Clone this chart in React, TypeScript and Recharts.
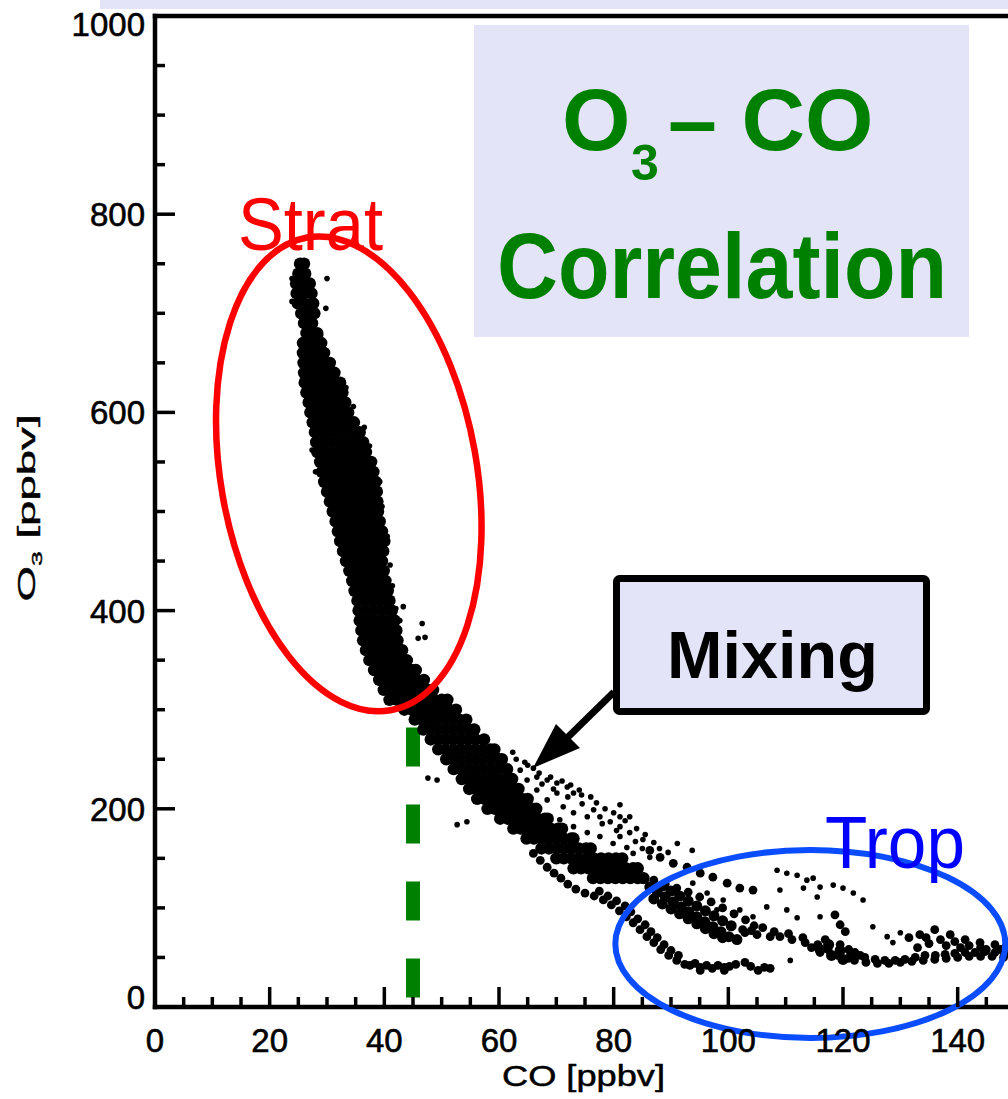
import { ScatterChart, Scatter, XAxis, YAxis, ReferenceLine, ReferenceDot } from "recharts";

const xTicks = [0, 5, 10, 15, 20, 25, 30, 35, 40, 45, 50, 55, 60, 65, 70, 75, 80, 85, 90, 95, 100, 105, 110, 115, 120, 125, 130, 135, 140, 145, 150];
const xLabels = [0, 20, 40, 60, 80, 100, 120, 140];
const yTicks = [0, 50, 100, 150, 200, 250, 300, 350, 400, 450, 500, 550, 600, 650, 700, 750, 800, 850, 900, 950, 1000];
const yLabels = [0, 200, 400, 600, 800, 1000];

// stratospheric branch: [O3, CO values along that O3 level]
const stratRows: [number, number[]][] = [
  [750, [25.3, 26.0]],
  [740, [25.0, 26.2]],
  [730, [24.6, 25.8, 27.0]],
  [720, [24.7, 25.9, 27.3]],
  [710, [24.9, 26.1, 27.6]],
  [700, [25.5, 26.7, 27.8]],
  [690, [26.0, 27.4]],
  [680, [26.4, 27.6, 28.3]],
  [670, [25.8, 27.0, 28.2, 29.0]],
  [660, [25.8, 27.0, 28.3, 29.5]],
  [650, [25.9, 27.1, 28.4, 29.6, 30.5]],
  [640, [26.0, 27.3, 28.6, 29.9, 31.3]],
  [630, [26.1, 27.4, 28.7, 30.0, 31.2, 32.3]],
  [620, [26.4, 27.7, 29.0, 30.3, 31.5, 32.7]],
  [610, [26.8, 28.0, 29.3, 30.6, 31.9, 33.2]],
  [600, [27.1, 28.4, 29.7, 31.0, 32.3, 33.7]],
  [590, [27.5, 28.8, 30.1, 31.4, 32.7, 34.0, 34.7]],
  [580, [27.9, 29.2, 30.5, 31.8, 33.1, 34.4, 35.7]],
  [570, [28.1, 29.4, 30.7, 32.0, 33.3, 34.6, 35.9, 36.3]],
  [560, [28.3, 29.6, 30.9, 32.2, 33.5, 34.8, 36.1, 36.8]],
  [550, [28.8, 30.1, 31.4, 32.7, 34.0, 35.3, 36.6, 37.7]],
  [540, [29.1, 30.4, 31.7, 33.0, 34.3, 35.6, 36.9, 38.1]],
  [530, [29.5, 30.8, 32.1, 33.4, 34.7, 36.0, 37.3, 38.5]],
  [520, [30.0, 31.3, 32.6, 33.9, 35.2, 36.5, 37.8, 38.7]],
  [510, [30.5, 31.8, 33.1, 34.4, 35.7, 37.0, 38.3, 38.8]],
  [500, [31.0, 32.3, 33.6, 34.9, 36.2, 37.5, 38.9]],
  [490, [31.5, 32.8, 34.1, 35.4, 36.7, 38.0, 39.2]],
  [480, [31.9, 33.2, 34.5, 35.8, 37.1, 38.4, 39.6]],
  [470, [32.3, 33.6, 34.9, 36.2, 37.5, 38.8, 40.0]],
  [460, [32.8, 34.1, 35.4, 36.7, 38.0, 39.3, 39.8]],
  [450, [33.3, 34.6, 35.9, 37.2, 38.5, 39.6]],
  [440, [33.9, 35.2, 36.5, 37.8, 39.1, 39.9]],
  [430, [34.4, 35.7, 37.0, 38.3, 39.6, 40.2]],
  [420, [34.8, 36.1, 37.4, 38.7, 40.0, 40.6]],
  [410, [35.3, 36.6, 37.9, 39.2, 40.5, 40.9]],
  [400, [35.5, 36.8, 38.1, 39.4, 40.7, 41.3]],
  [390, [35.7, 37.0, 38.3, 39.6, 40.9, 41.8]],
  [380, [36.0, 37.3, 38.6, 39.9, 41.2, 42.1]],
  [370, [36.3, 37.6, 38.9, 40.2, 41.5, 42.3]],
  [360, [36.8, 38.1, 39.4, 40.7, 42.0, 43.1]],
  [350, [37.4, 38.7, 40.0, 41.3, 42.6, 43.9]],
  [340, [38.2, 39.5, 40.8, 42.1, 43.4, 44.7, 45.5]],
  [330, [39.1, 40.4, 41.7, 43.0, 44.3, 45.6, 46.9]],
  [320, [39.9, 41.2, 42.5, 43.8, 45.1, 46.4, 47.7, 48.5]],
  [310, [40.9, 42.2, 43.5, 44.8, 46.1, 47.4, 48.7, 50.0, 51.0]],
];

// mixing band between the two branches
const mixingRows: [number, number[]][] = [
  [300, [43.5, 44.8, 46.1, 47.4, 48.7, 50.0, 51.3, 52.5]],
  [290, [45.3, 46.6, 47.9, 49.2, 50.5, 51.8, 53.1, 54.3]],
  [280, [46.8, 48.1, 49.4, 50.7, 52.0, 53.3, 54.6, 55.7]],
  [270, [48.1, 49.4, 50.7, 52.0, 53.3, 54.6, 55.9, 57.4]],
  [260, [49.4, 50.7, 52.0, 53.3, 54.6, 55.9, 57.2, 58.5, 59.2]],
  [250, [50.8, 52.1, 53.4, 54.7, 56.0, 57.3, 58.6, 59.9, 60.5]],
  [240, [52.1, 53.4, 54.7, 56.0, 57.3, 58.6, 59.9, 61.4]],
  [230, [53.5, 54.8, 56.1, 57.4, 58.7, 60.0, 61.3, 62.3]],
  [220, [54.8, 56.1, 57.4, 58.7, 60.0, 61.3, 62.6, 63.4]],
  [210, [56.2, 57.5, 58.8, 60.1, 61.4, 62.7, 64.0, 65.0]],
  [200, [58.0, 59.3, 60.6, 61.9, 63.2, 64.5, 65.8, 66.5]],
  [190, [60.2, 61.5, 62.8, 64.1, 65.4, 66.7, 68.0, 68.5]],
  [180, [62.5, 63.8, 65.1, 66.4, 67.7, 69.0, 70.3, 71.0]],
  [170, [64.8, 66.1, 67.4, 68.7, 70.0, 71.3, 72.6, 73.0]],
  [160, [67.4, 68.7, 70.0, 71.3, 72.6, 73.9, 75.2, 76.0]],
  [150, [70.0, 71.3, 72.6, 73.9, 75.2, 76.5, 77.8, 79.1, 80.4, 81.5]],
  [140, [73.0, 74.3, 75.6, 76.9, 78.2, 79.5, 80.8, 82.1, 83.4, 84.2]],
  [130, [76.4, 77.7, 79.0, 80.3, 81.6, 82.9, 84.2, 85.2]],
];

// [CO, O3] pairs for the thicker tropospheric band
const tropCore: [number, number][] = [
  [86.3, 121], [87.6, 116], [89.0, 111], [90.4, 106], [91.8, 101], [93.1, 96], [94.5, 91], [95.9, 86],
  [97.3, 81], [98.7, 76], [100.1, 71], [101.5, 68],
  [88.5, 122], [90.0, 117], [91.5, 112], [93.0, 107], [94.5, 102], [96.0, 97], [97.5, 92], [99.0, 87], [100.5, 82],
  [87.0, 109], [88.5, 104], [90.0, 99], [91.5, 94], [93.0, 89], [94.5, 84], [96.0, 79], [97.5, 74], [99.0, 70],
  [116.0, 58], [118.0, 52], [120.0, 48], [117.5, 63], [119.5, 57], [121.5, 52],
];

// thinner tropospheric strands
const tropStrands: [number, number][] = [
  [66.0, 155], [67.2, 148], [68.4, 141], [69.6, 135], [70.8, 130], [72.0, 124], [73.4, 119], [75.0, 115],
  [76.6, 112], [78.2, 108], [79.6, 103], [81.0, 97], [82.2, 91], [83.4, 85], [84.6, 78], [85.8, 71],
  [87.0, 65], [88.2, 58], [89.6, 52], [91.0, 47], [92.4, 43],
  [77.5, 117], [79.0, 112], [80.5, 107], [82.0, 102], [83.0, 96], [84.2, 89], [85.5, 83], [86.5, 76],
  [87.6, 70], [88.8, 63], [90.0, 57], [91.3, 52],
  [93.3, 42], [95.1, 40], [97.2, 39], [99.3, 40], [101.3, 43], [102.9, 45], [105.2, 37], [107.3, 39],
  [94.2, 44], [96.2, 42], [98.2, 42], [100.2, 41], [103.9, 41], [106.3, 40], [95.1, 37], [99.3, 37],
  [87.0, 128], [89.0, 124], [91.0, 120], [93.0, 116], [95.0, 111], [97.0, 106], [99.0, 100], [101.0, 94],
  [103.0, 88], [104.5, 82], [102.5, 78], [104.0, 77], [106.0, 80], [108.0, 76],
  [102.9, 75], [105.0, 73], [107.3, 71], [109.0, 71], [111.1, 68], [113.4, 65], [115.6, 63], [117.4, 58],
  [119.1, 52], [120.9, 49], [116.9, 68], [119.5, 63], [122.1, 55], [118.6, 93], [119.5, 83], [120.4, 76],
  [114.5, 60], [116.0, 55], [122.0, 47], [121.0, 58], [123.0, 52], [113.0, 70], [110.5, 74],
  [123.8, 50], [125.6, 48], [127.3, 47], [129.1, 47], [130.8, 48], [132.6, 50], [134.3, 52], [136.1, 52],
  [137.8, 53], [139.5, 54], [141.3, 55], [143.0, 55], [144.8, 56], [146.5, 55], [148.3, 54],
  [124.0, 45], [126.0, 44], [128.0, 44], [130.0, 45], [132.0, 46], [134.0, 47], [136.0, 48], [138.0, 49],
  [140.0, 50], [142.0, 51], [144.0, 51], [146.0, 51], [148.0, 50],
  [133.4, 73], [136.0, 78], [138.7, 73], [141.3, 68], [143.9, 65], [146.5, 63], [148.3, 60],
  [135.0, 64], [138.0, 62], [140.5, 60], [144.0, 60], [134.5, 70], [137.0, 68], [139.5, 66], [142.0, 62],
  [145.0, 58], [147.5, 58], [131.5, 70], [133.0, 60],
  [86.3, 158], [88.1, 151], [90.4, 145], [92.8, 141], [95.1, 135], [97.3, 131], [99.8, 125], [102.0, 120], [104.3, 118],
];

// isolated samples around the main cloud
const scatterPoints: [number, number][] = [
  [30.0, 735], [29.8, 705], [23.9, 712], [23.9, 735], [28.9, 678], [30.8, 640], [33.3, 625], [34.6, 606],
  [36.5, 585], [37.4, 566], [27.4, 562], [28.0, 540], [39.2, 530], [39.6, 505], [40.5, 475], [41.0, 446],
  [41.4, 425], [42.0, 402], [43.3, 404], [46.6, 387], [45.9, 372], [47.1, 373], [42.7, 390], [44.5, 350],
  [47.6, 231], [49.2, 229], [52.7, 184], [54.4, 187], [55.3, 283], [62.4, 257], [64.5, 247], [63.7, 239],
  [66.0, 241], [66.6, 232], [64.9, 229], [68.4, 229], [70.1, 226], [71.9, 222], [73.0, 216], [74.4, 214],
  [70.1, 216], [66.6, 219], [68.4, 209], [71.2, 202], [73.0, 196], [75.4, 192], [77.6, 192], [79.4, 187],
  [81.1, 204], [81.1, 192], [82.8, 192], [81.1, 182], [81.1, 172], [82.8, 176], [85.1, 169], [75.4, 176],
  [77.6, 172], [79.9, 165], [82.3, 161], [83.4, 155], [86.3, 151], [75.4, 161], [73.0, 182], [70.6, 189],
  [63.0, 250], [65.0, 244], [67.0, 236], [69.0, 232], [71.0, 228], [72.5, 224], [74.0, 219], [76.0, 212],
  [77.0, 206], [78.5, 200], [80.0, 196], [82.0, 188], [84.0, 180], [85.5, 174], [87.0, 166], [67.5, 225],
  [69.5, 220], [72.0, 212], [74.5, 205], [76.5, 199], [78.0, 185], [80.5, 178], [83.8, 167], [85.0, 160],
  [88.0, 160], [89.5, 156],
  [91.1, 165], [93.7, 158], [93.8, 125], [96.3, 115], [99.1, 108], [98.0, 98], [100.8, 95],
  [108.5, 138], [110.2, 135], [112.0, 133], [113.7, 128], [114.8, 130], [113.1, 120], [116.0, 121],
  [118.3, 123], [120.0, 120], [121.8, 115], [123.5, 108], [115.5, 111], [109.0, 118], [106.7, 101],
  [104.3, 91], [102.0, 98], [110.2, 98], [112.0, 90], [116.0, 91], [125.2, 81], [127.7, 71], [130.0, 75],
  [128.7, 65], [110.8, 47],
];

const rowsToPoints = (rows: [number, number[]][]) =>
  rows.flatMap(([o3, cos]) => cos.map((co) => ({ co, o3 })));
const pairsToPoints = (pairs: [number, number][]) => pairs.map(([co, o3]) => ({ co, o3 }));

const stratPoints = rowsToPoints(stratRows);
const mixingPoints = rowsToPoints(mixingRows);
const tropCorePoints = pairsToPoints(tropCore);
const strandPoints = pairsToPoints(tropStrands);
const loosePoints = pairsToPoints(scatterPoints);

const INK = "#000";
const LAVENDER = "#e4e4f9";
const GREEN = "#008000";
const FONT = "'Liberation Sans', Arial, Helvetica, sans-serif";

const dot = (r: number) => (p: any) => <circle cx={p.cx} cy={p.cy} r={r} fill={INK} />;

const tickLen = (major: boolean) => (major ? 20 : 10);
const labelStyle = { fontSize: 33, fill: INK, stroke: INK, strokeWidth: 0.6 };

function BottomTick({ x, y, payload }: any) {
  const major = xLabels.includes(payload.value);
  return (
    <g>
      <line x1={x} x2={x} y1={y} y2={y - tickLen(major)} stroke={INK} strokeWidth={3.5} />
      {major && (
        <text x={x} y={y + 45} textAnchor="middle" {...labelStyle}>
          {payload.value}
        </text>
      )}
    </g>
  );
}

function TopTick({ x, y, payload }: any) {
  const major = xLabels.includes(payload.value);
  return <line x1={x} x2={x} y1={y} y2={y + tickLen(major)} stroke={INK} strokeWidth={3.5} />;
}

function LeftTick({ x, y, payload }: any) {
  const major = yLabels.includes(payload.value);
  // end labels are nudged inside the frame
  const shift = payload.value === 0 ? -10 : payload.value === 1000 ? 8 : 0;
  return (
    <g>
      <line x1={x} x2={x + tickLen(major)} y1={y} y2={y} stroke={INK} strokeWidth={3.5} />
      {major && (
        <text x={x - 10} y={y + 12 + shift} textAnchor="end" {...labelStyle}>
          {payload.value}
        </text>
      )}
    </g>
  );
}

function RightTick({ x, y, payload }: any) {
  const major = yLabels.includes(payload.value);
  return <line x1={x} x2={x - tickLen(major)} y1={y} y2={y} stroke={INK} strokeWidth={3.5} />;
}

const frame = { stroke: INK, strokeWidth: 4.5, strokeLinecap: "square" as const };

export default function App() {
  return (
    <div
      style={{
        position: "absolute",
        left: 0,
        top: 0,
        width: 1008,
        height: 1099,
        overflow: "hidden",
        background: "#fff",
        fontFamily: FONT,
      }}
    >
      <ScatterChart
        width={1030}
        height={1099}
        margin={{ top: 15, right: 14, bottom: 91, left: 154 }}
        style={{ fontFamily: FONT }}
      >
        <XAxis
          xAxisId="bottom"
          dataKey="co"
          type="number"
          domain={[0, 150]}
          ticks={xTicks}
          interval={0}
          height={1}
          tickSize={0}
          tickMargin={0}
          tickLine={false}
          axisLine={frame}
          tick={<BottomTick />}
        />
        <XAxis
          xAxisId="top"
          orientation="top"
          type="number"
          domain={[0, 150]}
          ticks={xTicks}
          interval={0}
          height={1}
          tickSize={0}
          tickMargin={0}
          tickLine={false}
          axisLine={frame}
          tick={<TopTick />}
        />
        <YAxis
          yAxisId="left"
          dataKey="o3"
          type="number"
          domain={[0, 1000]}
          ticks={yTicks}
          interval={0}
          width={1}
          tickSize={0}
          tickMargin={0}
          tickLine={false}
          axisLine={frame}
          tick={<LeftTick />}
        />
        <YAxis
          yAxisId="right"
          orientation="right"
          type="number"
          domain={[0, 1000]}
          ticks={yTicks}
          interval={0}
          width={1}
          tickSize={0}
          tickMargin={0}
          tickLine={false}
          axisLine={frame}
          tick={<RightTick />}
        />

        <Scatter xAxisId="bottom" yAxisId="left" data={stratPoints} shape={dot(6.2)} isAnimationActive={false} />
        <Scatter xAxisId="bottom" yAxisId="left" data={mixingPoints} shape={dot(6.2)} isAnimationActive={false} />
        <Scatter xAxisId="bottom" yAxisId="left" data={tropCorePoints} shape={dot(5.5)} isAnimationActive={false} />
        <Scatter xAxisId="bottom" yAxisId="left" data={strandPoints} shape={dot(4.4)} isAnimationActive={false} />
        <Scatter xAxisId="bottom" yAxisId="left" data={loosePoints} shape={dot(2.8)} isAnimationActive={false} />

        <ReferenceLine
          xAxisId="bottom"
          yAxisId="left"
          segment={[{ x: 45, y: 282 }, { x: 45, y: 9 }]}
          stroke={GREEN}
          strokeWidth={14}
          strokeDasharray="39 38"
        />
        <ReferenceDot
          xAxisId="bottom"
          yAxisId="left"
          x={33.8}
          y={538}
          shape={(p: any) => (
            <ellipse
              cx={p.cx}
              cy={p.cy}
              rx={128}
              ry={240}
              transform={`rotate(-10 ${p.cx} ${p.cy})`}
              fill="none"
              stroke="#ff0000"
              strokeWidth={6.5}
            />
          )}
        />
        <ReferenceDot
          xAxisId="bottom"
          yAxisId="left"
          x={114.3}
          y={63.6}
          shape={(p: any) => (
            <ellipse cx={p.cx} cy={p.cy} rx={195} ry={94} fill="none" stroke="#0a4cff" strokeWidth={6} />
          )}
        />
      </ScatterChart>

      <svg
        width={1008}
        height={1099}
        style={{ position: "absolute", left: 0, top: 0, pointerEvents: "none", fontFamily: FONT }}
      >
        <rect x={100} y={0} width={908} height={9} fill={LAVENDER} />

        <rect x={474} y={25} width={495} height={312} fill={LAVENDER} />
        <text fontSize={88} fontWeight="bold" fill={GREEN}>
          <tspan x={562} y={150}>O</tspan>
          <tspan x={631} y={180} fontSize={50}>3</tspan>
          <tspan x={668} y={150}>– CO</tspan>
        </text>
        <text x={497} y={298} fontSize={92} fontWeight="bold" fill={GREEN} textLength={450} lengthAdjust="spacingAndGlyphs">
          Correlation
        </text>

        <text x={238} y={250} fontSize={74} fill="#ff0000" textLength={145} lengthAdjust="spacingAndGlyphs">
          Strat
        </text>
        <text x={825} y={868} fontSize={74} fill="#0000ff" textLength={140} lengthAdjust="spacingAndGlyphs">
          Trop
        </text>

        <rect x={616.5} y={578.5} width={310} height={133} rx={3} fill={LAVENDER} stroke={INK} strokeWidth={7} />
        <text x={667} y={678} fontSize={67} fontWeight="bold" fill={INK} textLength={211} lengthAdjust="spacingAndGlyphs">
          Mixing
        </text>
        <line x1={614} y1={692} x2={566} y2={739} stroke={INK} strokeWidth={7} />
        <polygon points="533,768 556,724 580,748" fill={INK} />

        <text
          x={502}
          y={1086}
          fontSize={30}
          fill={INK}
          stroke={INK}
          strokeWidth={0.5}
          textLength={163}
          lengthAdjust="spacingAndGlyphs"
        >
          CO [ppbv]
        </text>
        <text
          transform="translate(35,508) rotate(-90) scale(1.9,1)"
          fontSize={24}
          textAnchor="middle"
          fill={INK}
          stroke={INK}
          strokeWidth={0.4}
        >
          O<tspan fontSize={14} dy={7}>3</tspan>
          <tspan dy={-7}> [ppbv]</tspan>
        </text>
      </svg>
    </div>
  );
}
